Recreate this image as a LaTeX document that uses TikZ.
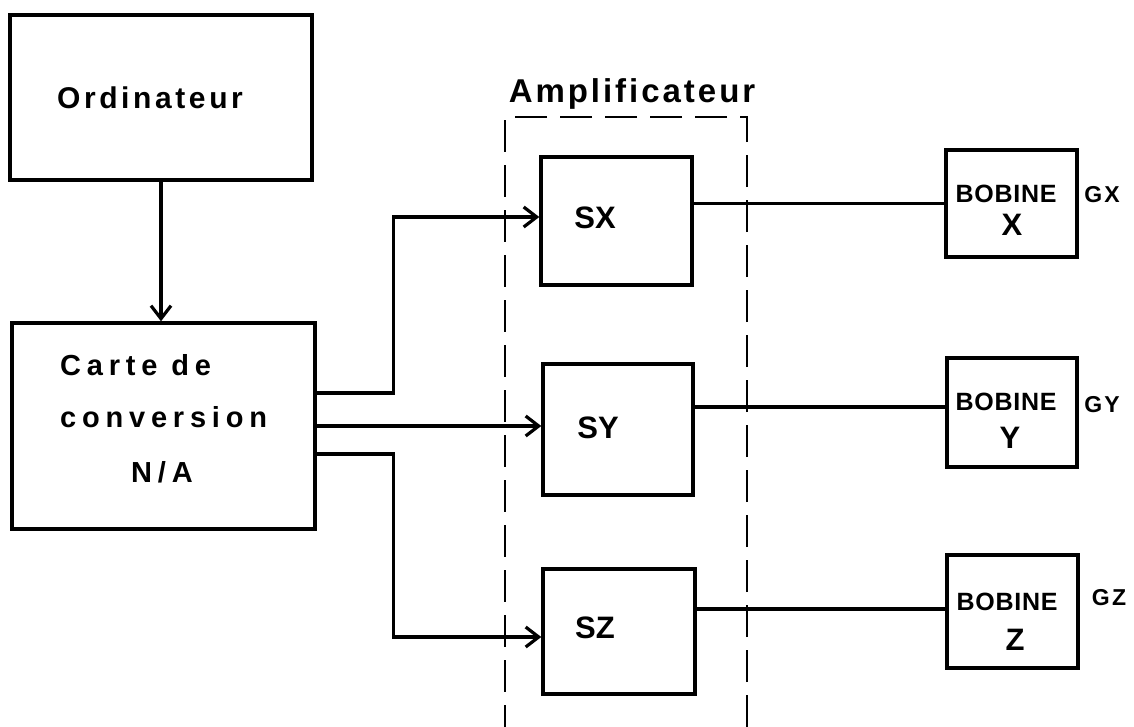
\documentclass[tikz,border=0pt]{standalone}
\usepackage{fontspec}
\setmainfont{Liberation Sans}
\newfontfamily\fOrd[LetterSpace=12]{Liberation Sans}
\newfontfamily\fCarte[LetterSpace=20]{Liberation Sans}
\newfontfamily\fAmp[LetterSpace=9]{Liberation Sans}
\newfontfamily\fBob[LetterSpace=3]{Liberation Sans}
\newfontfamily\fG[LetterSpace=10]{Liberation Sans}
\usetikzlibrary{arrows.meta}
\begin{document}
\begin{tikzpicture}[x=1pt,y=-1pt,
  blk/.style={draw, line width=3.4pt, inner sep=0pt},
  ampbox/.style={draw, line width=2.8pt, dash pattern=on 32pt off 13pt, inner sep=0pt},
  txt/.style={inner sep=0pt, anchor=base},
  txtw/.style={inner sep=0pt, anchor=base west},
  wire/.style={line width=3.2pt},
  arr/.style={line width=3.2pt, -{Straight Barb[length=13pt,width=20pt]}},
  big/.style={font=\bfseries\fontsize{31}{36}\selectfont},
  bob/.style={font=\fBob\bfseries\fontsize{25}{30}\selectfont},
  gl/.style={font=\fG\bfseries\fontsize{23}{28}\selectfont},
  carte/.style={font=\fCarte\bfseries\fontsize{29}{34}\selectfont}
]
\useasboundingbox (0,0) rectangle (1134,726);
\clip (0,0) rectangle (1134,726);
\fill[white] (0,0) rectangle (1134,726);

% boxes
\node[blk, minimum width=302pt, minimum height=165pt] (ord) at (161,97.5) {};
\node[blk, minimum width=303pt, minimum height=206pt] (carte) at (163.5,426) {};
\node[ampbox, minimum width=242pt, minimum height=683pt] (amp) at (626,458.5) {};
\node[blk, minimum width=151pt, minimum height=128pt] (sx) at (616.5,221) {};
\node[blk, minimum width=150pt, minimum height=131pt] (sy) at (618,429.5) {};
\node[blk, minimum width=152pt, minimum height=125pt] (sz) at (619,631.5) {};
\node[blk, minimum width=131pt, minimum height=107pt] (bobx) at (1011.5,203.5) {};
\node[blk, minimum width=130pt, minimum height=109pt] (boby) at (1012,412.5) {};
\node[blk, minimum width=131pt, minimum height=113pt] (bobz) at (1012.5,611.5) {};

% texts
\node[txt, font=\fOrd\bfseries\fontsize{30}{36}\selectfont] (tord) at (150,108) {Ordinateur};
\node[txtw, carte] (tc1) at (60,375) {Carte de};
\node[txtw, carte] (tc2) at (60,427) {conversion};
\node[txt, carte] (tc3) at (162,482) {N/A};
\node[txt, font=\fAmp\bfseries\fontsize{33}{40}\selectfont] (tamp) at (632,102) {Amplificateur};
\node[txt, big] (tsx) at (595,228) {SX};
\node[txt, big] (tsy) at (598,438) {SY};
\node[txt, big] (tsz) at (595,638) {SZ};
\node[txt, bob] (tbx) at (1006,202) {BOBINE};
\node[txt, big] (tx) at (1012,235) {X};
\node[txt, bob] (tby) at (1006,410) {BOBINE};
\node[txt, big] (ty) at (1010,448) {Y};
\node[txt, bob] (tbz) at (1007,610) {BOBINE};
\node[txt, big] (tz) at (1015,650) {Z};
\node[txt, gl] (gx) at (1102,202) {GX};
\node[txt, gl] (gy) at (1102,412) {GY};
\node[txt, gl] (gz) at (1109,605) {GZ};

% connectors
\draw[arr] (ord.south) -- (ord.south |- carte.north);
\draw[arr] ([yshift=33pt]carte.east) -- ++(77,0) |- ([yshift=4pt]sx.west);
\draw[arr] (carte.east) -- (carte.east -| sy.west);
\draw[arr] ([yshift=-28pt]carte.east) -- ++(77,0) |- ([yshift=-5.5pt]sz.west);
\draw[wire] (bobx.west -| sx.east) -- (bobx.west);
\draw[wire] ([yshift=5.5pt]boby.west -| sy.east) -- ([yshift=5.5pt]boby.west);
\draw[wire] ([yshift=2.5pt]bobz.west -| sz.east) -- ([yshift=2.5pt]bobz.west);
\end{tikzpicture}
\end{document}
